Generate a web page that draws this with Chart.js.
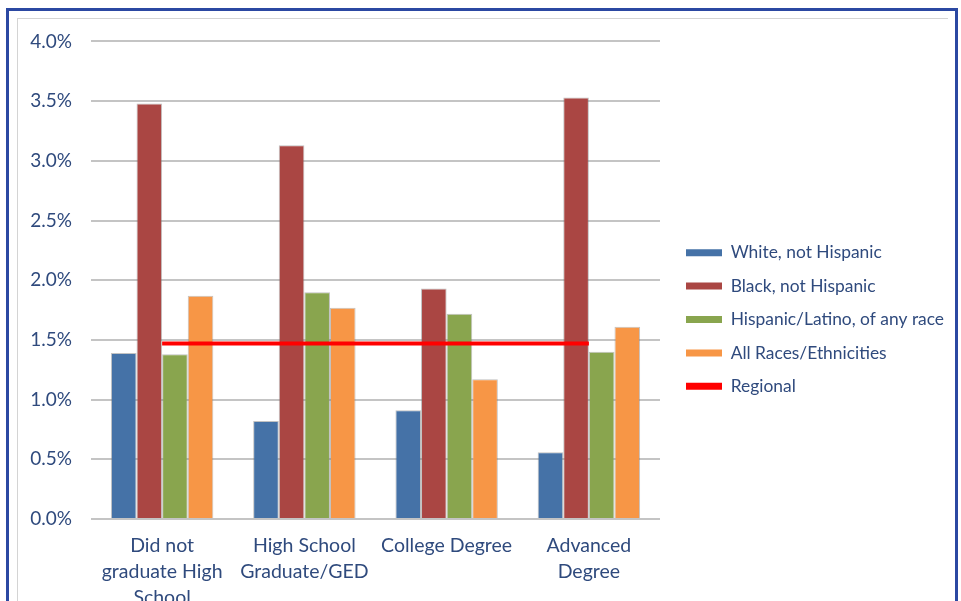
<!DOCTYPE html>
<html>
<head>
<meta charset="utf-8">
<script src="https://cdn.jsdelivr.net/npm/chart.js@4"></script>
<style>
  html, body { margin: 0; padding: 0; background: #fff; overflow: hidden; width: 961px; height: 601px; }
  #frame { position: absolute; left: 6px; top: 8px; width: 946px; height: 700px; border: 3px solid #2B48A2; }
  #inner { position: absolute; left: 17px; top: 18px; width: 930px; height: 700px; border-top: 1px solid #D4D4D4; border-left: 1px solid #D4D4D4; }
  #wrap { position: absolute; left: 18px; top: 11px; }
</style>
</head>
<body>
<div id="frame"></div>
<div id="inner"></div>
<div id="wrap"><canvas id="myChart" width="934" height="608"></canvas></div>
<script>
const categories = [
  ['Did not', 'graduate High', 'School'],
  ['High School', 'Graduate/GED'],
  'College Degree',
  ['Advanced', 'Degree']
];
const white = [1.39, 0.82, 0.91, 0.56];
const black = [3.48, 3.13, 1.93, 3.53];
const hispanic = [1.38, 1.90, 1.72, 1.40];
const allRaces = [1.87, 1.77, 1.17, 1.61];
const regional = [1.47, 1.47, 1.47, 1.47];
const yTicks = [0, 0.5, 1, 1.5, 2, 2.5, 3, 3.5, 4];

const textColor = '#2F4A7D';
const fontFamily = 'Lato, "Open Sans", sans-serif';
const barEdge = 'rgba(120,120,120,0.45)';

// legend gets squeezed by the layout, so widen it after the fact
const legendShift = {
  id: 'legendShift',
  afterUpdate(chart) {
    const l = chart.legend;
    const dy = -2;
    l.left = chart.chartArea.right + 10;
    l.right = chart.width;
    l.width = l.right - l.left;
    l.top += dy; l.bottom += dy;
  }
};

const data = {
  labels: categories,
  datasets: [
    { type: 'bar', label: 'White, not Hispanic', data: white, backgroundColor: '#4572A7' },
    { type: 'bar', label: 'Black, not Hispanic', data: black, backgroundColor: '#AA4643' },
    { type: 'bar', label: 'Hispanic/Latino, of any race', data: hispanic, backgroundColor: '#89A54E' },
    { type: 'bar', label: 'All Races/Ethnicities', data: allRaces, backgroundColor: '#F79646' },
    { type: 'line', label: 'Regional', data: regional, borderColor: '#FF0000', backgroundColor: '#FF0000',
      borderWidth: 4, pointRadius: 0, order: -1 }
  ]
};

const config = {
  type: 'bar',
  data: data,
  options: {
    responsive: false,
    animation: false,
    layout: {
      padding: { top: 13, right: 78, left: 0, bottom: 0 }
    },
    datasets: {
      bar: {
        categoryPercentage: 0.72,
        barPercentage: 1.0,
        borderWidth: { top: 1, left: 1, right: 1, bottom: 0 },
        borderColor: barEdge
      }
    },
    scales: {
      x: {
        grid: { display: false },
        border: { display: false },
        ticks: {
          color: textColor,
          font: { family: fontFamily, size: 19.5, lineHeight: 1.33 },
          padding: 6,
          maxRotation: 0,
          autoSkip: false
        },
        afterFit(scale) { scale.height = 100; }
      },
      y: {
        min: 0,
        max: 4,
        afterBuildTicks(scale) { scale.ticks = yTicks.map(v => ({ value: v })); },
        grid: { color: '#C4C4C4', lineWidth: 2, drawTicks: false },
        border: { display: false },
        ticks: {
          color: textColor,
          font: { family: fontFamily, size: 19 },
          padding: 19,
          callback: v => v.toFixed(1) + '%'
        },
        afterFit(scale) { scale.width = 73; }
      }
    },
    plugins: {
      legend: {
        display: true,
        position: 'right',
        labels: {
          color: textColor,
          font: { family: fontFamily, size: 17.4 },
          boxWidth: 36,
          boxHeight: 7,
          padding: 16,
          sort: (a, b) => a.datasetIndex - b.datasetIndex,
          generateLabels(chart) {
            return chart.data.datasets.map((ds, i) => ({
              text: ds.label,
              fillStyle: ds.backgroundColor,
              strokeStyle: ds.backgroundColor,
              lineWidth: 0,
              fontColor: textColor,
              hidden: false,
              datasetIndex: i
            }));
          }
        }
      },
      tooltip: { enabled: false }
    }
  },
  plugins: [legendShift]
};

var myChart = new Chart(
  document.getElementById('myChart'),
  config
);
</script>
</body>
</html>
